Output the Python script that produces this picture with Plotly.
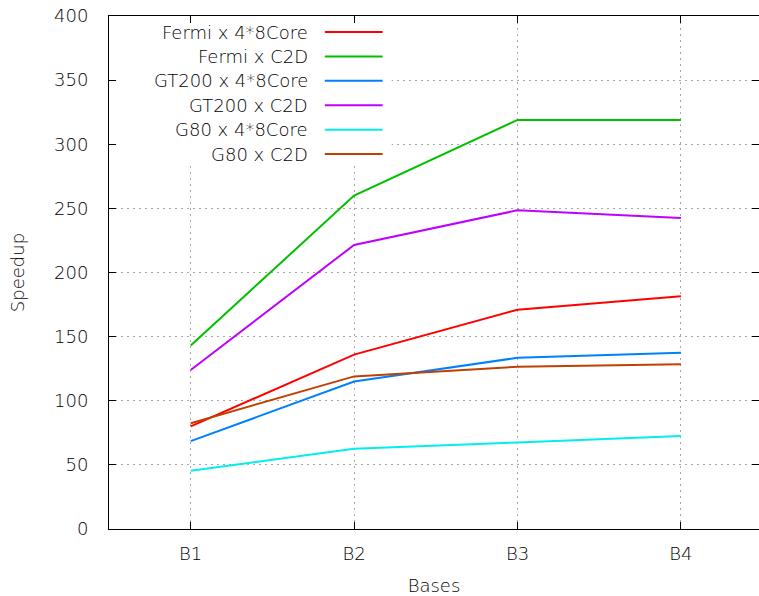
import plotly.graph_objects as go

categories = ["B1", "B2", "B3", "B4"]
series_names = ["Fermi x 4*8Core", "Fermi x C2D", "GT200 x 4*8Core",
                "GT200 x C2D", "G80 x 4*8Core", "G80 x C2D"]
fermi_4x8 = [80, 136, 171, 181.5]
fermi_c2d = [143, 260, 319, 319]
gt200_4x8 = [68.5, 115, 133.5, 137.5]
gt200_c2d = [124, 221.5, 248.5, 242.5]
g80_4x8 = [45.5, 62.5, 67.5, 72.5]
g80_c2d = [82.5, 119, 126.5, 128.5]
series_values = [fermi_4x8, fermi_c2d, gt200_4x8, gt200_c2d, g80_4x8, g80_c2d]
colors = ["#ff0000", "#00c000", "#0080ff", "#c000ff", "#00eeee", "#c04000"]
y_ticks = [0, 50, 100, 150, 200, 250, 300, 350, 400]

FONT = "DejaVu Sans ExtraLight, DejaVu Sans"
TXT = "#000000"
W = 200

def f():
    return dict(family=FONT, size=18, color=TXT, weight=W)

fig = go.Figure()
for name, vals, col in zip(series_names, series_values, colors):
    fig.add_trace(go.Scatter(x=list(range(len(categories))), y=vals, name=name,
                             mode="lines", line=dict(color=col, width=2),
                             showlegend=False))

# opaque key box covering grid (between grid and traces)
shapes = [dict(type="rect", xref="x", yref="y",
               x0=-0.5, x1=1.23, y0=283, y1=400, fillcolor="white",
               line=dict(width=0), layer="between")]
annotations = []
row0 = 0.9688
step = 0.0476
for i, (name, col) in enumerate(zip(series_names, colors)):
    yy = row0 - i * step
    annotations.append(dict(xref="paper", yref="paper", x=0.309, y=yy,
                            text=name, showarrow=False, xanchor="right",
                            yanchor="middle", font=f()))
    shapes.append(dict(type="line", xref="paper", yref="paper",
                       x0=0.332, x1=0.421, y0=yy, y1=yy,
                       line=dict(color=col, width=2), layer="above"))

fig.update_layout(
    width=759, height=596,
    margin=dict(l=109, r=0, t=16, b=67),
    plot_bgcolor="white", paper_bgcolor="white",
    font=f(),
    shapes=shapes, annotations=annotations,
    xaxis=dict(range=[-0.5, 3.478], tickmode="array",
               tickvals=list(range(len(categories))), ticktext=categories,
               tickfont=f(),
               showgrid=True, gridcolor="#a8a8a8", griddash="2px,4px", gridwidth=1,
               zeroline=False, showline=True, linecolor="#000000", linewidth=1,
               mirror="ticks", ticks="inside", ticklen=7, tickcolor="#000000",
               ticklabelstandoff=8,
               title=dict(text="Bases", standoff=18, font=f())),
    yaxis=dict(range=[0, 400], tickmode="array", tickvals=y_ticks,
               tickfont=f(),
               showgrid=True, gridcolor="#a8a8a8", griddash="2px,4px", gridwidth=1,
               zeroline=False, showline=True, linecolor="#000000", linewidth=1,
               mirror="ticks", ticks="inside", ticklen=7, tickcolor="#000000",
               ticklabelstandoff=16,
               title=dict(text="Speedup", standoff=24, font=f())),
)

fig.write_html("out.html")
